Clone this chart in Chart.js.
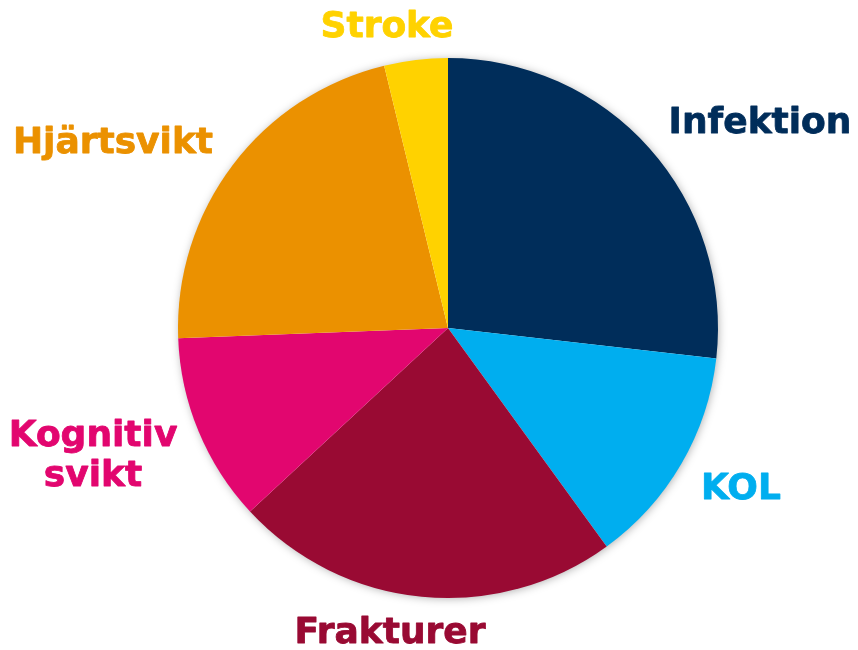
<!DOCTYPE html>
<html>
<head>
<meta charset="utf-8">
<script src="https://cdn.jsdelivr.net/npm/chart.js@4/dist/chart.umd.min.js"></script>
<style>
html,body{margin:0;padding:0;background:#fff;}
#wrap{width:858px;height:650px;position:relative;}
</style>
</head>
<body>
<div id="wrap"><canvas id="c" width="858" height="650"></canvas></div>
<script>
const categories = ["Infektion", "KOL", "Frakturer", "Kognitiv svikt", "Hjärtsvikt", "Stroke"];
const values = [26.8, 13.2, 23.1, 11.3, 21.8, 3.8];
const colors = ["#002D5A", "#00AEEF", "#990A33", "#E2066F", "#EB9100", "#FFD200"];
const labelLines = [["Infektion"], ["KOL"], ["Frakturer"], ["Kognitiv", "svikt"], ["Hjärtsvikt"], ["Stroke"]];
const labelAnchors = [[760, 133], [741, 499], [390, 643], [93, 446], [113, 153], [387, 37]];

const shadowPlugin = {
  id: 'pieShadow',
  beforeDatasetsDraw(chart) {
    const arc = chart.getDatasetMeta(0).data[0];
    if (!arc) return;
    const ctx = chart.ctx;
    ctx.save();
    ctx.shadowColor = 'rgba(0,0,0,0.35)';
    ctx.shadowBlur = 10;
    ctx.shadowOffsetX = 1;
    ctx.shadowOffsetY = 1;
    ctx.fillStyle = '#ffffff';
    ctx.beginPath();
    ctx.arc(arc.x, arc.y, arc.outerRadius - 1, 0, Math.PI * 2);
    ctx.fill();
    ctx.restore();
  }
};

const labelPlugin = {
  id: 'outLabels',
  afterDatasetsDraw(chart) {
    const ctx = chart.ctx;
    ctx.save();
    ctx.font = 'bold 36px "DejaVu Sans", Verdana, sans-serif';
    ctx.textAlign = 'center';
    ctx.textBaseline = 'alphabetic';
    ctx.lineWidth = 0.8;
    ctx.lineJoin = 'round';
    labelLines.forEach((lines, i) => {
      ctx.fillStyle = colors[i];
      ctx.strokeStyle = colors[i];
      const [x, y] = labelAnchors[i];
      lines.forEach((t, j) => {
        ctx.fillText(t, x, y + j * 40);
        ctx.strokeText(t, x, y + j * 40);
      });
    });
    ctx.restore();
  }
};

new Chart(document.getElementById('c'), {
  type: 'pie',
  data: {
    labels: categories,
    datasets: [{
      data: values,
      backgroundColor: colors,
      borderWidth: 0
    }]
  },
  options: {
    responsive: false,
    animation: false,
    layout: { padding: { left: 178, right: 140, top: 58, bottom: 52 } },
    plugins: {
      legend: { display: false },
      tooltip: { enabled: false }
    }
  },
  plugins: [shadowPlugin, labelPlugin]
});
</script>
</body>
</html>
